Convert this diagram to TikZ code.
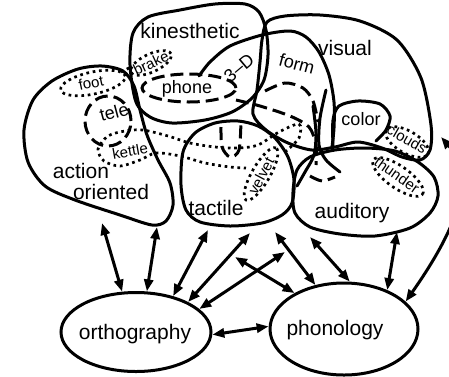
\documentclass[tikz,border=0pt]{standalone}
\usepackage{fontspec}
\setmainfont{Liberation Sans}
\usetikzlibrary{arrows.meta,shapes.geometric}
\begin{document}
\begin{tikzpicture}[x=1pt,y=-1pt,
  blob/.style={line width=3pt, line join=round, line cap=round},
  dotline/.style={line width=2.7pt, dash pattern=on 2.7pt off 3.7pt},
  dashline/.style={line width=3pt, dash pattern=on 13pt off 6pt},
  link/.style={line width=3pt, {Triangle[length=12pt,width=9pt]}-{Triangle[length=12pt,width=9pt]}},
  big/.style={font=\fontsize{21}{21}\selectfont, inner sep=0pt},
  mid/.style={font=\fontsize{18}{18}\selectfont, inner sep=0pt},
  small/.style={font=\fontsize{15}{15}\selectfont, inner sep=0pt},
  oval/.style={draw, ellipse, line width=3pt, inner sep=0pt},
]
\useasboundingbox (0,0) rectangle (449,376);
\clip (0,0) rectangle (449,376);

% regions
\draw[blob] plot[smooth cycle] coordinates {(130,65) (133,33) (148,17) (180,10) (215,4) (245,4) (259,12) (266,30) (268,55) (264,80) (252,98) (232,112) (205,120) (172,123) (150,117) (136,102)};
\draw[blob] plot[smooth cycle] coordinates {(262,40) (267,22) (285,16) (320,15) (360,21) (397,40) (421,78) (431,125) (430,150) (420,160) (402,157) (382,148) (358,142) (335,147) (312,150) (288,143) (266,130) (253,114) (257,90) (260,62)};
\draw[blob] plot[smooth] coordinates {(199,76) (210,62) (230,46) (262,35) (290,31) (306,37) (319,52) (329,75) (334,102) (334,128) (332,147)};
\draw[blob] plot[smooth] coordinates {(333,146) (333,120) (339,106) (358,101) (380,104) (390,116) (386,130) (376,141)};
\draw[blob] plot[smooth cycle] coordinates {(24,130) (33,100) (52,81) (78,69) (102,66) (123,71) (134,86) (140,110) (147,135) (158,160) (170,183) (173,205) (166,221) (152,225) (120,215) (75,200) (45,186) (28,162)};
\draw[blob] plot[smooth cycle] coordinates {(181,185) (183,152) (195,133) (215,123) (238,121) (258,126) (275,138) (288,157) (294,180) (292,203) (282,215) (262,223) (230,226) (200,222) (186,210)};
\draw[blob] plot[smooth cycle] coordinates {(293,192) (297,170) (310,157) (335,150) (365,148) (395,151) (418,162) (434,177) (438,196) (430,213) (410,228) (375,236) (340,234) (310,227) (295,213)};
\draw[blob] plot[smooth] coordinates {(313,106) (316,133) (314,155) (305,172) (297,186)};
\draw[blob] plot[smooth] coordinates {(326,90) (320,118) (319,145) (326,160) (340,172)};

% dashed concept links
\draw[dashline] (189,88) ellipse [x radius=47pt, y radius=14pt];
\draw[dashline] (108,121) ellipse [x radius=23pt, y radius=25pt];
\draw[dashline] plot[smooth] coordinates {(265,91) (285,83) (303,88) (313,101) (318,122)};
\draw[dashline] plot[smooth] coordinates {(236,100) (260,106) (290,116) (309,127) (316,145) (316,165)};
\draw[dashline] plot[smooth] coordinates {(310,176) (322,181) (335,177)};
\draw[dashline] plot[smooth] coordinates {(221,127) (222,147) (230,157) (239,150) (241,120)};

% dotted concept links
\draw[dotline, rotate around={12:(93,83)}] (93,83) ellipse [x radius=33pt, y radius=11pt];
\draw[dotline, rotate around={25:(151,63)}] (151,63) ellipse [x radius=22pt, y radius=9pt];
\draw[dotline] (121,72) -- (131,67);
\draw[dotline] plot[smooth] coordinates {(285,152) (299,138) (299,124) (279,132) (258,145) (238,148) (215,147) (190,143) (168,136) (143,130) (125,131) (108,136) (98,149) (104,161) (120,166) (140,160) (156,153) (180,156) (205,163) (230,167) (246,168)};
\draw[dotline, rotate around={60:(261,174)}] (261,174) ellipse [x radius=30pt, y radius=9pt];
\draw[dotline, rotate around={-30:(407,142)}] (407,142) ellipse [x radius=24pt, y radius=11pt];
\draw[dotline, rotate around={-35:(398,177)}] (398,177) ellipse [x radius=30pt, y radius=11pt];

% labels
\node[big] (kin) at (190,31) {kinesthetic};
\node[big] (vis) at (345,48) {visual};
\node[mid, rotate=-15] (form) at (297,64) {form};
\node[mid, rotate=40] (threeD) at (239,68) {3–D};
\node[mid] (phone) at (187,89) {phone};
\node[small, rotate=12] (foot) at (91,83) {foot};
\node[small, rotate=25] (brake) at (151,63) {brake};
\node[mid, rotate=15] (tele) at (114,112) {tele};
\node[small, rotate=10] (kettle) at (130,151) {kettle};
\node[big] (action) at (81,171) {action};
\node[big] (oriented) at (111,192) {oriented};
\node[big] (tactile) at (216,208) {tactile};
\node[small, rotate=62] (velvet) at (261,176) {velvet};
\node[mid] (color) at (361,119) {color};
\node[small, rotate=-30] (clouds) at (407,139) {clouds};
\node[small, rotate=-35] (thunder) at (397,175) {thunder};
\node[big] (auditory) at (352,213) {auditory};

% lexical ovals
\node[oval, minimum width=150pt, minimum height=79pt] (ortho) at (136,332) {};
\node[big] (orthotext) at (135,334) {orthography};
\node[oval, minimum width=148pt, minimum height=92pt] (phono) at (344,329) {};
\node[big] (phonotext) at (335,330) {phonology};

% free ends at the regions
\coordinate (a1) at (102,223);
\coordinate (a2) at (157,227);
\coordinate (a3) at (208,230);
\coordinate (a4) at (250,233);
\coordinate (a5) at (285,252);
\coordinate (a6) at (235,257);
\coordinate (a7) at (275,232);
\coordinate (a8) at (310,237);
\coordinate (a9) at (397,232);
\coordinate (a10) at (441,137);

\draw[link] (a1) -- (ortho.109);
\draw[link] (a2) -- (ortho.75);
\draw[link] (a3) -- (ortho.44);
\draw[link] (a4) -- (ortho.30);
\draw[link] (a5) -- (ortho.20);
\draw[link] (a6) -- (phono.144);
\draw[link] (a7) -- (phono.123);
\draw[link] (a8) -- (phono.83);
\draw[link] (a9) -- (phono.42);
\draw[link] (phono.24) .. controls (470,210) and (470,170) .. (a10);
\draw[link] (ortho.-2) -- (phono.178);
\end{tikzpicture}
\end{document}
